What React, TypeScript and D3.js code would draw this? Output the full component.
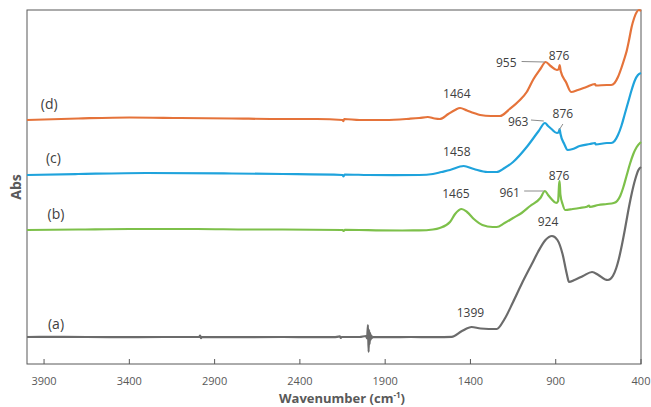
import React from "react";
import * as d3 from "d3";

// Wavenumber (cm-1) ticks
const xTicks = [3900, 3400, 2900, 2400, 1900, 1400, 900, 400];

// Spectra: [wavenumber, absorbance (arbitrary, offset)]
const seriesA: [number, number][] = [
  [4000, 0.27], [3800, 0.272], [3500, 0.268], [3200, 0.27], [2990, 0.27], [2985, 0.285], [2980, 0.258], [2975, 0.27],
  [2700, 0.268], [2500, 0.27], [2200, 0.268], [2165, 0.276], [2160, 0.26], [2155, 0.27], [2050, 0.27],
  [2012, 0.28], [2006, 0.255], [2001, 0.39], [1997, 0.12], [1994, 0.34], [1991, 0.2], [1988, 0.31], [1985, 0.24],
  [1981, 0.285], [1976, 0.262], [1970, 0.27], [1900, 0.268], [1750, 0.27], [1600, 0.268], [1510, 0.272],
  [1450, 0.33], [1393, 0.37], [1340, 0.355], [1246, 0.35], [1200, 0.45], [1150, 0.62], [1100, 0.8],
  [1040, 1.0], [1004, 1.12], [960, 1.24], [922, 1.28], [890, 1.24], [860, 1.1], [835, 0.9], [822, 0.82],
  [790, 0.84], [740, 0.88], [687, 0.92], [650, 0.89], [610, 0.845], [594, 0.84], [565, 0.88], [545, 0.96],
  [530, 1.05], [512, 1.19], [495, 1.34], [475, 1.53], [455, 1.7], [435, 1.84], [415, 1.94], [400, 1.97],
];

const seriesB: [number, number][] = [
  [4000, 1.34], [3700, 1.345], [3400, 1.35], [3000, 1.35], [2700, 1.345], [2500, 1.345], [2150, 1.34],
  [2143, 1.33], [2136, 1.342], [2000, 1.338], [1800, 1.335], [1700, 1.336], [1620, 1.345], [1580, 1.36],
  [1520, 1.42], [1490, 1.5], [1452, 1.55], [1420, 1.52], [1380, 1.45], [1330, 1.39], [1270, 1.37],
  [1246, 1.37], [1200, 1.41], [1150, 1.46], [1100, 1.51], [1050, 1.58], [990, 1.66], [963, 1.73],
  [945, 1.69], [925, 1.65], [897, 1.61], [886, 1.63], [880, 1.8], [877, 1.83], [873, 1.7], [860, 1.6],
  [845, 1.54], [800, 1.55], [760, 1.56], [717, 1.573], [705, 1.585], [700, 1.57], [650, 1.59], [600, 1.6],
  [560, 1.61], [540, 1.63], [522, 1.68], [505, 1.76], [485, 1.88], [465, 2.0], [445, 2.1], [425, 2.17],
  [400, 2.22],
];

const seriesC: [number, number][] = [
  [4000, 1.89], [3700, 1.9], [3300, 1.91], [2800, 1.905], [2500, 1.9], [2150, 1.89], [2144, 1.875],
  [2138, 1.895], [2000, 1.89], [1850, 1.888], [1700, 1.89], [1620, 1.9], [1570, 1.92], [1520, 1.94],
  [1440, 1.98], [1380, 1.95], [1300, 1.92], [1246, 1.92], [1200, 1.96], [1150, 2.02], [1070, 2.17],
  [1000, 2.33], [963, 2.41], [945, 2.38], [925, 2.35], [893, 2.31], [882, 2.32], [877, 2.35], [872, 2.3],
  [850, 2.2], [830, 2.14], [800, 2.15], [760, 2.18], [700, 2.2], [670, 2.21], [665, 2.195], [600, 2.21],
  [575, 2.21], [555, 2.23], [535, 2.29], [515, 2.38], [495, 2.5], [475, 2.62], [455, 2.74], [435, 2.84],
  [418, 2.89], [400, 2.91],
];

const seriesD: [number, number][] = [
  [4000, 2.44], [3700, 2.455], [3400, 2.465], [3100, 2.46], [2800, 2.455], [2500, 2.45], [2300, 2.45],
  [2150, 2.44], [2145, 2.428], [2140, 2.45], [2050, 2.44], [1900, 2.44], [1760, 2.452], [1700, 2.46],
  [1650, 2.47], [1610, 2.455], [1580, 2.45], [1530, 2.5], [1490, 2.54], [1461, 2.56], [1420, 2.535],
  [1380, 2.51], [1343, 2.49], [1280, 2.48], [1227, 2.48], [1170, 2.55], [1110, 2.64], [1070, 2.72],
  [1030, 2.85], [990, 2.95], [959, 3.02], [930, 2.98], [893, 2.94], [882, 2.95], [877, 2.99], [871, 2.93],
  [840, 2.82], [810, 2.72], [770, 2.74], [720, 2.77], [670, 2.8], [665, 2.785], [600, 2.79], [575, 2.79],
  [555, 2.81], [535, 2.87], [515, 2.96], [498, 3.05], [484, 3.13], [470, 3.24], [455, 3.37], [440, 3.46],
  [425, 3.52], [412, 3.54], [400, 3.53],
];

const seriesNames = ["(a)", "(b)", "(c)", "(d)"];
const seriesColors = ["#6b6b6b", "#7dc04a", "#1fa3dc", "#e5733a"];

// Peak annotations: text, label position [wavenumber, absorbance], optional leader from/to
type Ann = { text: string; at: [number, number]; leader?: [[number, number], [number, number]] };
const annotations: Ann[] = [
  { text: "1464", at: [1480, 2.71] },
  { text: "955", at: [1190, 3.02], leader: [[1100, 3.025], [965, 3.02]] },
  { text: "876", at: [880, 3.09] },
  { text: "1458", at: [1480, 2.13] },
  { text: "963", at: [1120, 2.43], leader: [[1045, 2.44], [970, 2.43]] },
  { text: "876", at: [858, 2.51], leader: [[858, 2.4], [880, 2.34]] },
  { text: "1465", at: [1485, 1.71] },
  { text: "961", at: [1170, 1.72], leader: [[1085, 1.73], [970, 1.73]] },
  { text: "876", at: [880, 1.89] },
  { text: "924", at: [945, 1.43] },
  { text: "1399", at: [1400, 0.52] },
];
const seriesLabelPos: [number, number][] = [
  [3830, 0.41], [3830, 1.51], [3845, 2.07], [3870, 2.61],
];

const W = 651;
const H = 407;
const margin = { left: 27, right: 10, top: 10, bottom: 43 };

export default function App() {
  const x = d3.scaleLinear().domain([4000, 400]).range([margin.left, W - margin.right]);
  const y = d3.scaleLinear().domain([0, 3.54]).range([H - margin.bottom, margin.top]);
  const line = d3
    .line<[number, number]>()
    .x((d) => x(d[0]))
    .y((d) => y(d[1]))
    .curve(d3.curveMonotoneX);
  const all = [seriesA, seriesB, seriesC, seriesD];
  const font = "'Open Sans', 'Liberation Sans', sans-serif";
  const textColor = "#404040";
  const axisColor = "#595959";
  const x0 = margin.left;
  const x1 = W - margin.right;
  const yb = H - margin.bottom;
  return (
    <svg
      width={W}
      height={H}
      style={{ position: "absolute", left: 0, top: 0, background: "#fff" }}
      fontFamily={font}
    >
      <rect x={x0} y={margin.top} width={x1 - x0} height={yb - margin.top} fill="none" stroke={axisColor} strokeWidth={1} />
      {xTicks.map((t) => (
        <g key={t}>
          <line x1={x(t)} x2={x(t)} y1={yb} y2={yb - 5} stroke={axisColor} />
          <text x={x(t)} y={385} textAnchor="middle" fontSize={11} fill={axisColor}>
            {t}
          </text>
        </g>
      ))}
      <text x={342} y={403} textAnchor="middle" fontSize={13} fontWeight="bold" fill={axisColor}>
        Wavenumber (cm
        <tspan fontSize={8} dy={-5}>-1</tspan>
        <tspan dy={5}>)</tspan>
      </text>
      <text
        transform={`translate(21,187) rotate(-90)`}
        textAnchor="middle"
        fontSize={14}
        fontWeight="bold"
        fill={axisColor}
      >
        Abs
      </text>
      {all.map((s, i) => (
        <path key={i} d={line(s) || ""} fill="none" stroke={seriesColors[i]} strokeWidth={2.2} strokeLinejoin="round" />
      ))}
      {seriesNames.map((n, i) => (
        <text key={n} x={x(seriesLabelPos[i][0])} y={y(seriesLabelPos[i][1])} textAnchor="middle" dominantBaseline="central" fontSize={14} fill={textColor}>
          {n}
        </text>
      ))}
      {annotations.map((a, i) => (
        <g key={i}>
          {a.leader && (
            <line
              x1={x(a.leader[0][0])}
              y1={y(a.leader[0][1])}
              x2={x(a.leader[1][0])}
              y2={y(a.leader[1][1])}
              stroke="#8c8c8c"
              strokeWidth={1}
            />
          )}
          <text x={x(a.at[0])} y={y(a.at[1])} textAnchor="middle" dominantBaseline="central" fontSize={12} fill={textColor}>
            {a.text}
          </text>
        </g>
      ))}
    </svg>
  );
}
